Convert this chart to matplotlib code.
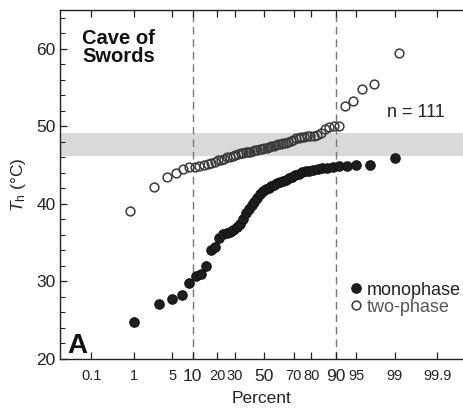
import numpy as np
import matplotlib
matplotlib.use("Agg")
import matplotlib.pyplot as plt
from statistics import NormalDist

plt.rcParams['font.family'] = ['Liberation Sans', 'DejaVu Sans']
plt.rcParams['mathtext.fontset'] = 'custom'
plt.rcParams['mathtext.rm'] = 'Liberation Sans'
plt.rcParams['mathtext.it'] = 'Liberation Sans:italic'

## Homogenisation temperatures (sorted) ##
monophase = [24.8, 27.1, 27.7, 28.2, 29.8, 30.75, 30.9, 32.0, 34.1, 34.5,
             35.6, 36.1, 36.2, 36.4, 36.6, 37.0, 37.4, 38.0, 38.8, 39.3,
             39.8, 40.3, 40.7, 41.3, 41.6, 41.9, 42.1, 42.3, 42.5, 42.7,
             42.8, 42.9, 43.1, 43.3, 43.5, 43.7, 43.9, 44.1, 44.2, 44.3,
             44.4, 44.5, 44.6, 44.65, 44.8, 44.9, 44.9, 45.0, 45.0, 45.9]
two_phase = [39.1, 42.2, 43.5, 44.0, 44.5, 44.7, 44.8, 44.9, 45.0, 45.2,
             45.3, 45.4, 45.6, 45.7, 45.8, 46.0, 46.1, 46.2, 46.35, 46.45,
             46.5, 46.6, 46.65, 46.7, 46.75, 46.85, 46.9, 47.0, 47.05, 47.1,
             47.2, 47.25, 47.3, 47.4, 47.5, 47.6, 47.7, 47.75, 47.8, 47.9,
             48.0, 48.15, 48.3, 48.45, 48.55, 48.6, 48.65, 48.7, 48.75, 48.8,
             48.85, 49.2, 49.6, 49.9, 50.0, 50.1, 52.6, 53.3, 54.8, 55.5, 59.5]
band = (46.2, 49.1)
cutoffs = [10, 90]
pct_ticks = [0.1, 1, 5, 10, 20, 30, 50, 70, 80, 90, 95, 99, 99.9]
pct_labels = ['0.1', '1', '5', '10', '20', '30', '50', '70', '80', '90', '95', '99', '99.9']
big_labels = ['10', '50', '90']

nd = NormalDist()
_inv = np.vectorize(lambda p: nd.inv_cdf(min(max(p, 1e-9), 1 - 1e-9)), otypes=[float])
_cdf = np.vectorize(nd.cdf, otypes=[float])

def forward(p):
    return _inv(np.asarray(p, dtype=float) / 100.0)

def inverse(z):
    return _cdf(np.asarray(z, dtype=float)) * 100.0

# Hazen plotting positions
def plotting_positions(vals):
    n = len(vals)
    return (np.arange(1, n + 1) - 0.5) / n * 100.0

fig = plt.figure(figsize=(4.63, 4.09), dpi=100)
ax = fig.add_axes([60 / 463, 50 / 409, 1 - 60 / 463, 349 / 409])
ax.set_xscale('function', functions=(forward, inverse))

ax.axhspan(band[0], band[1], color='#d9d9d9', lw=0, zorder=0)
for c in cutoffs:
    ax.axvline(c, color='#777777', lw=1.0, dashes=(5.5, 3.5), zorder=1)

ax.plot(plotting_positions(monophase), monophase, 'o', ms=6.8, mfc='#1e1e1e', mec='#111111',
        mew=0.8, ls='none', label='monophase', zorder=3)
ax.plot(plotting_positions(two_phase), two_phase, 'o', ms=6.3, mfc='none', mec='#3a3a3a',
        mew=1.1, ls='none', label='two-phase', zorder=3)

ax.set_xlim(inverse(-3.648), inverse(3.548))
ax.set_ylim(20, 65)
ax.set_xticks(pct_ticks)
ax.set_xticklabels(pct_labels)
ax.xaxis.set_minor_locator(matplotlib.ticker.NullLocator())
for t in ax.get_xticklabels():
    t.set_fontsize(12.5 if t.get_text() in big_labels else 10.5)
    t.set_color('#222222')
ax.set_yticks([20, 30, 40, 50, 60])
ax.set_yticks(np.arange(20, 66, 2), minor=True)
ax.tick_params(axis='y', which='major', labelsize=12.5, direction='in', length=5, width=0.9,
               colors='#222222', pad=3)
ax.tick_params(axis='y', which='minor', direction='in', length=3.5, width=0.8, colors='#222222')
ax.tick_params(axis='x', which='major', direction='in', length=5, width=0.9, top=True,
               colors='#222222', pad=7)
ax.spines['right'].set_visible(False)
for s in ['left', 'top', 'bottom']:
    ax.spines[s].set_linewidth(1.0)
    ax.spines[s].set_color('#222222')

ax.set_xlabel('Percent', fontsize=12.5, color='#222222', labelpad=5)
ax.set_ylabel(r'$T_\mathrm{h}$ (°C)', fontsize=12.5, color='#222222', labelpad=6)

ax.text(0.055, 0.945, 'Cave of\nSwords', transform=ax.transAxes, fontsize=14.5,
        fontweight='bold', va='top', ha='left', linespacing=0.95, color='#111111')
ax.text(0.811, 0.705, 'n = 111', transform=ax.transAxes, fontsize=13, va='center',
        ha='left', color='#222222')
ax.text(0.018, 0.018, 'A', transform=ax.transAxes, fontsize=20, fontweight='bold',
        va='baseline', ha='left', color='#111111')

leg = ax.legend(loc='upper left', bbox_to_anchor=(0.722, 0.222), frameon=False, fontsize=13,
                handlelength=0.6, handletextpad=0.3, labelspacing=0.0, borderpad=0,
                borderaxespad=0)
leg.get_texts()[0].set_color('#222222')
leg.get_texts()[1].set_color('#555555')

plt.savefig('out.png', dpi=100)
plt.close('all')
